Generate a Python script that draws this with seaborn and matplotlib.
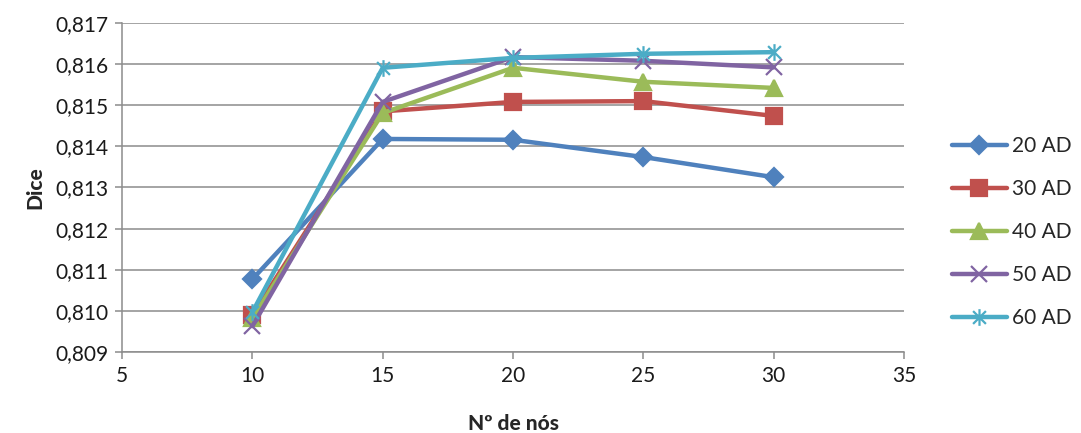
import matplotlib
matplotlib.use("Agg")
import matplotlib.pyplot as plt
from matplotlib.path import Path
from matplotlib.ticker import FuncFormatter, MultipleLocator
import seaborn as sns
import pandas as pd

nodes = [10, 15, 20, 25, 30]
series_names = ["20 AD", "30 AD", "40 AD", "50 AD", "60 AD"]
dice_20 = [0.81077, 0.81418, 0.81416, 0.81374, 0.81325]
dice_30 = [0.80990, 0.81485, 0.81508, 0.81510, 0.81474]
dice_40 = [0.80982, 0.81481, 0.81591, 0.81557, 0.81542]
dice_50 = [0.80963, 0.81508, 0.81617, 0.81608, 0.81592]
dice_60 = [0.80997, 0.81591, 0.81615, 0.81625, 0.81629]
colors = ["#4F81BD", "#C0504D", "#9BBB59", "#8064A2", "#4BACC6"]

rows = []
for name, vals in zip(series_names, [dice_20, dice_30, dice_40, dice_50, dice_60]):
    for n, v in zip(nodes, vals):
        rows.append({"nodes": n, "dice": v, "series": name})
df = pd.DataFrame(rows)

# asterisk marker: an X with a vertical stroke through it
star = Path(
    [(-1, -1), (1, 1), (-1, 1), (1, -1), (0, -1.3), (0, 1.3)],
    [Path.MOVETO, Path.LINETO, Path.MOVETO, Path.LINETO, Path.MOVETO, Path.LINETO],
)
markers = {"20 AD": "D", "30 AD": "s", "40 AD": "^", "50 AD": "x", "60 AD": star}
msizes = {"20 AD": 9, "30 AD": 11, "40 AD": 11, "50 AD": 11, "60 AD": 12}

sns.set_style("white")
plt.rcParams["font.family"] = ["Lato", "DejaVu Sans"]

fig = plt.figure(figsize=(10.81, 4.33), dpi=100)
ax = fig.add_axes([0.1129, 0.187, 0.7234, 0.760])

for name, c in zip(series_names, colors):
    sub = df[df["series"] == name]
    sns.lineplot(
        data=sub, x="nodes", y="dice", color=c, marker=markers[name],
        linewidth=3.2, markersize=msizes[name], markeredgewidth=1.6,
        markeredgecolor=c, markerfacecolor=c, ax=ax, legend=False,
    )
for line in ax.get_lines():
    line.set_solid_capstyle("round")
    line.set_solid_joinstyle("round")

ax.set_xlim(5, 35)
ax.set_ylim(0.809, 0.817)
ax.xaxis.set_major_locator(MultipleLocator(5))
ax.yaxis.set_major_locator(MultipleLocator(0.001))
ax.yaxis.set_major_formatter(FuncFormatter(lambda v, p: f"{v:.3f}".replace(".", ",")))
ax.grid(axis="y", color="#8c8c8c", linewidth=1.1)
ax.grid(axis="x", visible=False)
ax.set_axisbelow(True)
for s in ["top", "right"]:
    ax.spines[s].set_visible(False)
for s in ["left", "bottom"]:
    ax.spines[s].set_color("#8c8c8c")
    ax.spines[s].set_linewidth(1.1)
ax.tick_params(axis="both", which="major", direction="out", length=5,
               color="#8c8c8c", width=1.1, labelsize=15, labelcolor="#1a1a1a", pad=5)
ax.tick_params(axis="x", bottom=True)
ax.tick_params(axis="y", left=True)
ax.set_xlabel("Nº de nós", fontsize=15, fontweight="black", labelpad=20)
ax.set_ylabel("Dice", fontsize=15, fontweight="black", labelpad=8)

handles = []
for name, c in zip(series_names, colors):
    h, = ax.plot([], [], color=c, linewidth=3.2, marker=markers[name],
                 markersize=msizes[name], markeredgecolor=c, markerfacecolor=c,
                 markeredgewidth=1.6, solid_capstyle="round")
    handles.append(h)
fig.legend(handles, series_names, loc="center left", bbox_to_anchor=(0.881, 0.464),
           frameon=False, fontsize=15, handlelength=2.6, labelspacing=1.1,
           handletextpad=0.25, borderaxespad=0, borderpad=0)

fig.savefig("out.png", dpi=100, facecolor="white")
